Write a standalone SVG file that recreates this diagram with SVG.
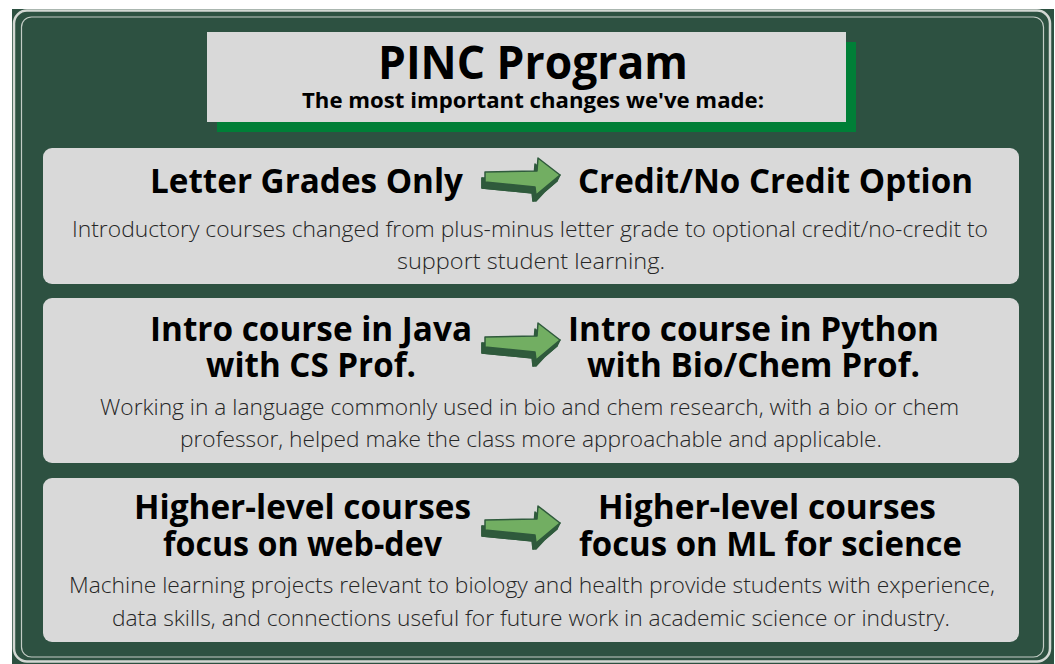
<svg xmlns="http://www.w3.org/2000/svg" xmlns:xlink="http://www.w3.org/1999/xlink" width="1055" height="664" viewBox="0 0 1055 664">
<style>
.panel{fill:#d9d9d9}
.head{font-family:"Open Sans","Liberation Sans",sans-serif;font-weight:700;font-size:34.5px;fill:#000;text-anchor:middle}
.body{font-family:"Open Sans","Liberation Sans",sans-serif;font-weight:300;font-size:22px;fill:#262626;text-anchor:middle}
.face{fill:#72ae62;stroke:#2f5a3c;stroke-width:1.5;stroke-linejoin:round}
.side{fill:#2f5a3c;stroke:#2f5a3c;stroke-width:1.5;stroke-linejoin:round}
</style>
<defs>
<g id="arrow">
<polygon class="side" points="-1,20 2,24 51,29 50,43 53,43 77,17 74,23 51,43 52,35 -1,30"/>
<polygon class="side" points="-1,20 51,19 52,6 74,23 50,43 49,35 -1,30"/>
<polygon class="face" points="2,14 54,13 55,0 77,17 53,37 52,29 2,24"/>
</g>
</defs>
<rect width="1055" height="664" fill="#ffffff"/>
<rect x="12" y="9" width="1042" height="655" fill="#2d5141"/>
<rect x="14" y="10.5" width="1036" height="651" rx="13" fill="none" stroke="#d3d8d3" stroke-width="2.5"/>
<rect x="21.5" y="17" width="1022" height="640" rx="10" fill="none" stroke="#c3ccc5" stroke-width="1.2"/>

<g id="title">
<rect x="217" y="42" width="639" height="90" fill="#007f37"/>
<rect x="207" y="32" width="639" height="90" fill="#d9d9d9"/>
<text x="533" y="79" font-family="'Open Sans','Liberation Sans',sans-serif" font-weight="700" font-size="46" text-anchor="middle" fill="#000" textLength="310" lengthAdjust="spacingAndGlyphs">PINC Program</text>
<text x="533" y="108" font-family="'Open Sans','Liberation Sans',sans-serif" font-weight="700" font-size="21" text-anchor="middle" fill="#000" textLength="462" lengthAdjust="spacingAndGlyphs">The most important changes we've made:</text>
</g>

<g id="panel1">
<rect class="panel" x="43" y="148" width="976" height="136" rx="9"/>
<text class="head" x="306.5" y="193" textLength="313" lengthAdjust="spacingAndGlyphs">Letter Grades Only</text>
<text class="head" x="775.5" y="193" textLength="395" lengthAdjust="spacingAndGlyphs">Credit/No Credit Option</text>
<text class="body" x="530" y="237" textLength="916" lengthAdjust="spacingAndGlyphs">Introductory courses changed from plus-minus letter grade to optional credit/no-credit to</text>
<text class="body" x="531" y="268.5" textLength="268" lengthAdjust="spacingAndGlyphs">support student learning.</text>
</g>

<g id="panel2">
<rect class="panel" x="43" y="298" width="976" height="165" rx="9"/>
<text class="head" x="311" y="341" textLength="322" lengthAdjust="spacingAndGlyphs">Intro course in Java</text>
<text class="head" x="311" y="377" textLength="210" lengthAdjust="spacingAndGlyphs">with CS Prof.</text>
<text class="head" x="753.5" y="341" textLength="371" lengthAdjust="spacingAndGlyphs">Intro course in Python</text>
<text class="head" x="753.5" y="377" textLength="333" lengthAdjust="spacingAndGlyphs">with Bio/Chem Prof.</text>
<text class="body" x="529.5" y="415" textLength="859" lengthAdjust="spacingAndGlyphs">Working in a language commonly used in bio and chem research, with a bio or chem</text>
<text class="body" x="531" y="447" textLength="702" lengthAdjust="spacingAndGlyphs">professor, helped make the class more approachable and applicable.</text>
</g>

<g id="panel3">
<rect class="panel" x="43" y="478" width="976" height="164" rx="9"/>
<text class="head" x="302.5" y="519" textLength="337" lengthAdjust="spacingAndGlyphs">Higher-level courses</text>
<text class="head" x="302.5" y="556" textLength="279" lengthAdjust="spacingAndGlyphs">focus on web-dev</text>
<text class="head" x="767" y="519" textLength="338" lengthAdjust="spacingAndGlyphs">Higher-level courses</text>
<text class="head" x="770.5" y="556" textLength="383" lengthAdjust="spacingAndGlyphs">focus on ML for science</text>
<text class="body" x="532" y="593" textLength="926" lengthAdjust="spacingAndGlyphs">Machine learning projects relevant to biology and health provide students with experience,</text>
<text class="body" x="531" y="626" textLength="838" lengthAdjust="spacingAndGlyphs">data skills, and connections useful for future work in academic science or industry.</text>
</g>

<g id="connectors">
<use xlink:href="#arrow" x="483" y="158"/>
<use xlink:href="#arrow" x="483" y="323"/>
<use xlink:href="#arrow" x="483" y="506"/>
</g>
</svg>
